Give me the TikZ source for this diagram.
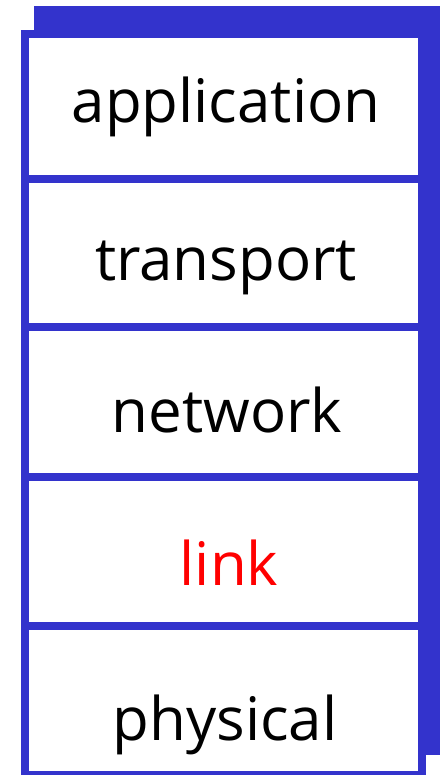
\documentclass[tikz,border=0pt]{standalone}
\usepackage{fontspec}
\setmainfont{Open Sans}
\definecolor{frameblue}{RGB}{51,51,204}
\definecolor{linkred}{RGB}{255,0,0}
\begin{document}
\begin{tikzpicture}[x=1pt,y=-1pt,
  layerbox/.style={draw=frameblue,line width=8pt,fill=white},
  layertext/.style={anchor=base,inner sep=0pt,font=\fontsize{60}{60}\selectfont,text=black}]
\useasboundingbox (0,0) rectangle (440,775);
% shadow
\fill[frameblue] (34,6) rectangle (440,755);
% layers
\draw[layerbox] (25,34) rectangle (422,179);
\draw[layerbox] (25,179) rectangle (422,327);
\draw[layerbox] (25,327) rectangle (422,477);
\draw[layerbox] (25,477) rectangle (422,626);
\draw[layerbox] (25,626) rectangle (422,775);
% labels
\node[layertext] (app) at (226,123) {application};
\node[layertext] (trans) at (226,280) {transport};
\node[layertext] (net) at (227,432) {network};
\node[layertext,text=linkred] (link) at (229,585) {link};
\node[layertext] (phys) at (225,740) {physical};
\end{tikzpicture}
\end{document}
